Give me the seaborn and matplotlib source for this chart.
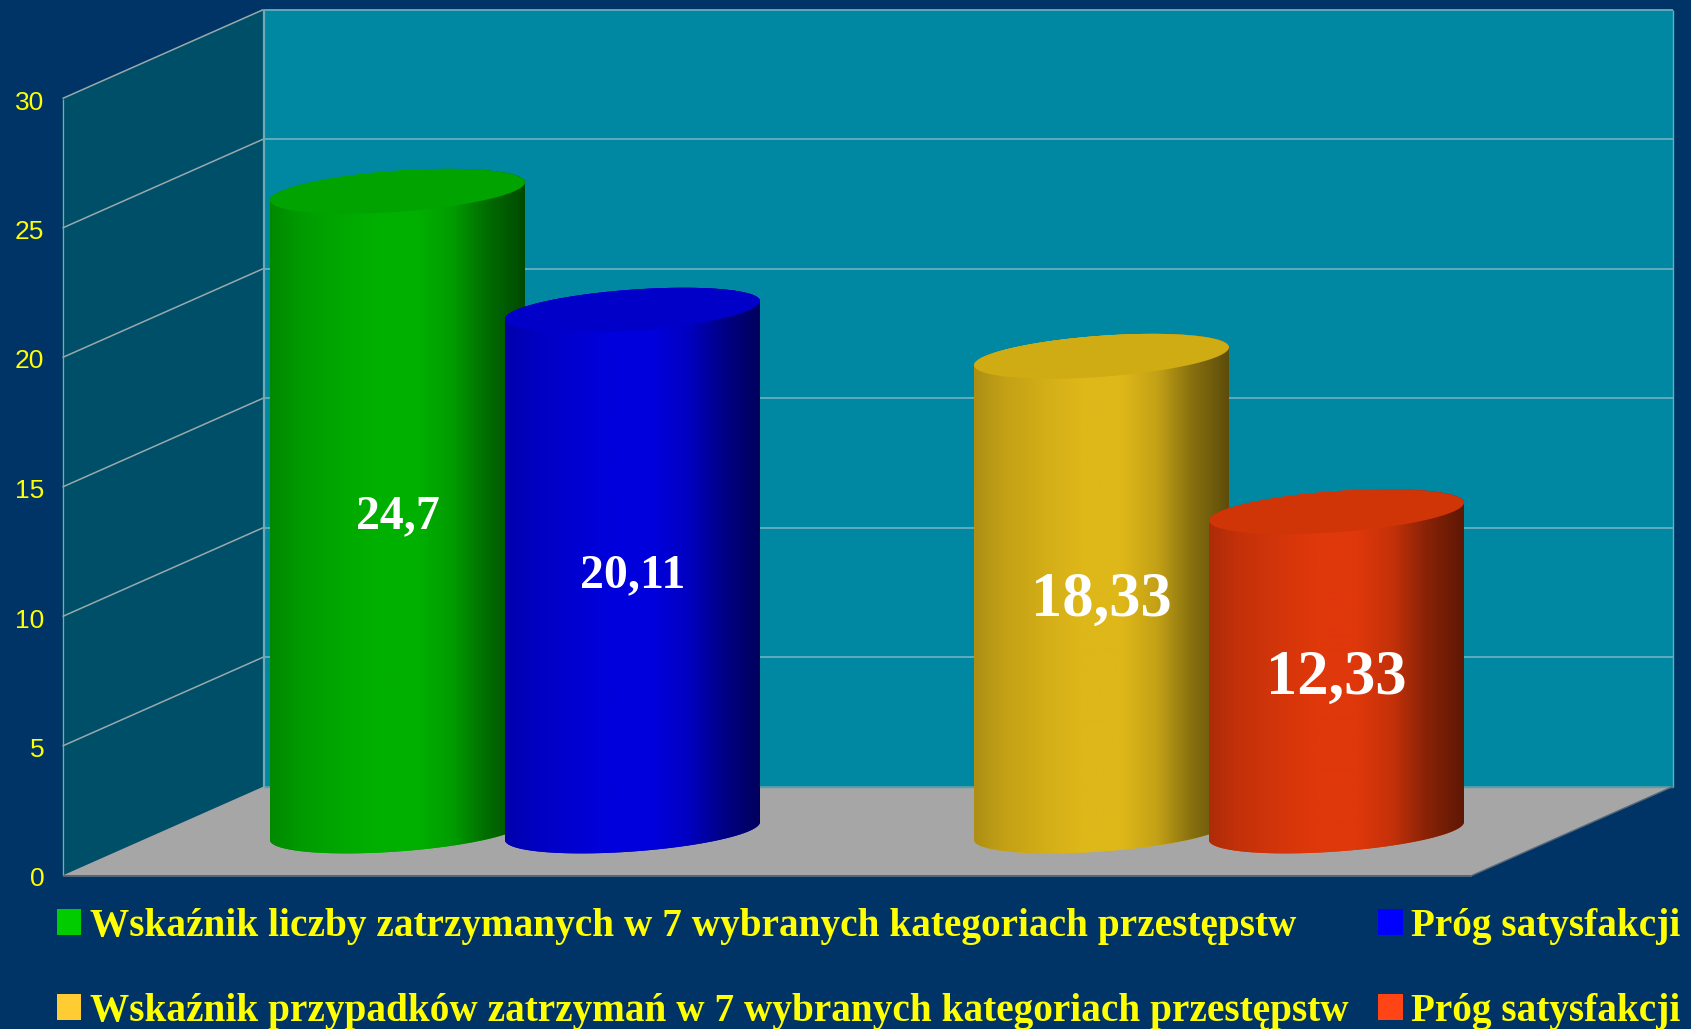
import numpy as np
import matplotlib
matplotlib.use("Agg")
import matplotlib.pyplot as plt
from matplotlib.patches import Polygon, Patch
from matplotlib.path import Path
from matplotlib.colors import to_rgb
import pandas as pd
import seaborn as sns

# ---- data ----
groups = ["zatrzymani", "zatrzymani", "przypadki", "przypadki"]
series = ["Wskaźnik", "Próg", "Wskaźnik", "Próg"]
values = [24.7, 20.11, 18.33, 12.33]
legend_labels = ["Wskaźnik liczby zatrzymanych w 7 wybranych kategoriach przestępstw",
                 "Próg satysfakcji",
                 "Wskaźnik przypadków zatrzymań w 7 wybranych kategoriach przestępstw",
                 "Próg satysfakcji"]
y_ticks = [0, 5, 10, 15, 20, 25, 30]

# ---- style ----
BG = "#003366"
W, H = 1691, 1029
body_colors = ["#00B000", "#0000DC", "#DEB719", "#DF380B"]
top_colors = ["#00A300", "#0000C8", "#CFAB14", "#D03508"]
legend_colors = ["#00CC00", "#0000FF", "#FFCC33", "#FF4415"]
label_sizes = [34.5, 34.5, 45, 45]
label_shift = [0.19, 0.19, 0.28, 0.28]

PX_PER_CAT, CAT0_PX = 704.0, 515.0
PX_PER_UNIT, BASE_PY = 25.9, 831.0

def X(px):
    return (px - CAT0_PX) / PX_PER_CAT

def Y(py):
    return (BASE_PY - py) / PX_PER_UNIT

sns.set_theme(style="white")
fig = plt.figure(figsize=(W / 100, H / 100), dpi=100, facecolor=BG)
ax = fig.add_axes([0, 0, 1, 1])
ax.set_facecolor(BG)

df = pd.DataFrame({"grupa": groups, "seria": series, "wartosc": values})
sns.barplot(data=df, x="grupa", y="wartosc", hue="seria", order=["zatrzymani", "przypadki"],
            hue_order=["Wskaźnik", "Próg"], width=0.6676, gap=0, legend=False,
            errorbar=None, ax=ax)
bars = [ax.containers[0][0], ax.containers[1][0], ax.containers[0][1], ax.containers[1][1]]

ax.set_xlim(X(0), X(W))
ax.set_ylim(Y(H), Y(0))
ax.set_xlabel("")
ax.set_ylabel("")
ax.set_xticks([])
ax.set_yticks([])
for s in ax.spines.values():
    s.set_visible(False)

# ---- chart box (3-D frame) ----
FL, BL, BR, FR = 62.5, 263.6, 1673.0, 1472.0
FRONT_0, BACK_0 = 875.5, 786.5


def poly(pts, color, z):
    ax.add_patch(Polygon([(X(a), Y(b)) for a, b in pts], closed=True, facecolor=color,
                         edgecolor="none", zorder=z))


top_back = BACK_0 - 30 * PX_PER_UNIT
top_front = FRONT_0 - 30 * PX_PER_UNIT
poly([(BL, BACK_0), (BR, BACK_0), (BR, top_back), (BL, top_back)], "#0088A3", 0.5)
poly([(FL, FRONT_0), (BL, BACK_0), (BL, top_back), (FL, top_front)], "#004F68", 0.5)
poly([(FL, FRONT_0), (FR, FRONT_0), (BR, BACK_0), (BL, BACK_0)], "#A6A6A6", 0.6)


def seg(xs, ys, color, lw, z=0.8):
    ax.plot([X(a) for a in xs], [Y(b) for b in ys], color=color, lw=lw, zorder=z,
            solid_capstyle="butt")


for t in y_ticks[1:]:
    yb = BACK_0 - t * PX_PER_UNIT
    yf = FRONT_0 - t * PX_PER_UNIT
    seg([BL, BR], [yb, yb], "#66AEBE", 1.3)
    seg([FL, BL], [yf, yb], "#9AA9AC", 1.1)
seg([BL, BL], [BACK_0, top_back], "#6FAAB6", 1.6)
seg([FL, FL], [FRONT_0, top_front], "#8FA3A8", 0.9)
seg([BR, BR], [BACK_0, top_back], "#66AEBE", 1.0)
seg([BL, BR], [BACK_0, BACK_0], "#4FA5B5", 1.0, 0.7)
seg([FL, FR], [FRONT_0, FRONT_0], "#566877", 1.4)
seg([FR, BR], [FRONT_0, BACK_0], "#566877", 1.0)

for t in y_ticks:
    ax.text(X(44.5), Y(FRONT_0 - t * PX_PER_UNIT + 4), str(t), color="#FFFF00", ha="right",
            va="center", fontsize=19, family="Liberation Sans")

# ---- cylinders ----
stops = np.array([0.0, 0.12, 0.3, 0.42, 0.58, 0.72, 0.85, 1.0])
shade = np.array([0.78, 0.88, 0.96, 1.0, 1.0, 0.88, 0.62, 0.42])
u = np.linspace(0, 1, 256)
WIDTH_PX = 255.0
TILT_PX = 9.0
MINOR_PX = 20.5
tt = np.linspace(0, 2 * np.pi, 181)

for i, (b, v) in enumerate(zip(bars, values)):
    cx = b.get_x() + b.get_width() / 2
    a = WIDTH_PX / PX_PER_CAT / 2
    tilt = TILT_PX / PX_PER_UNIT
    minor = MINOR_PX / PX_PER_UNIT
    z = 2 + i
    c = np.cos(tt)
    s = np.sin(tt)
    ex = cx + a * c
    ey = tilt * c + minor * s
    lower = s <= 0
    upper = s >= 0
    lx, ly = ex[lower], ey[lower]
    order = np.argsort(lx)
    ux, uy = ex[upper], ey[upper]
    uorder = np.argsort(-ux)
    verts = np.r_[np.c_[lx[order], ly[order]], np.c_[ux[uorder], uy[uorder] + v]]
    body = Path(np.r_[verts, verts[:1]], closed=True)

    b.set_x(cx - a)
    b.set_width(2 * a)
    b.set_y(-3)
    b.set_height(v + 5)
    b.set_facecolor(body_colors[i])
    b.set_edgecolor("none")
    b.set_zorder(z)
    b.set_clip_path(body, ax.transData)

    rgb = np.array(to_rgb(body_colors[i]))
    grad = np.outer(np.interp(u, stops, shade), rgb)[None, :, :]
    im = ax.imshow(grad, extent=(cx - a, cx + a, -3, v + 3), aspect="auto", zorder=z + 0.1,
                   interpolation="bilinear")
    im.set_clip_path(body, ax.transData)
    ax.add_patch(Polygon(np.c_[ex, ey + v], closed=True, facecolor=top_colors[i],
                         edgecolor="none", zorder=z + 0.2))
    ax.text(cx, v / 2 - label_shift[i], f"{v}".replace(".", ","), color="white", ha="center",
            va="center", fontsize=label_sizes[i], fontweight="bold", family="Liberation Serif",
            zorder=20)

ax.set_xlim(X(0), X(W))
ax.set_ylim(Y(H), Y(0))

# ---- legend ----
handles = [Patch(facecolor=legend_colors[i], edgecolor="none", label=legend_labels[i]) for i in (0, 2, 1, 3)]
leg = ax.legend(handles=handles, ncol=2, frameon=False, loc="upper left",
                bbox_to_anchor=(57 / W, 1 - 908 / H), bbox_transform=fig.transFigure,
                borderaxespad=0, borderpad=0, handlelength=0.62, handleheight=0.62,
                handletextpad=0.22, labelspacing=1.22, columnspacing=0.76,
                prop={"family": "Liberation Serif", "weight": "bold", "size": 28.25},
                labelcolor="#FFFF00")
leg.set_zorder(30)

fig.savefig("out.png", dpi=100, facecolor=BG)
